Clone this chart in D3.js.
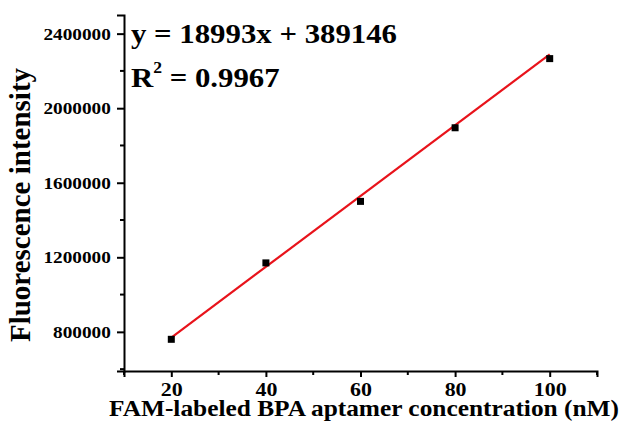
<!DOCTYPE html>
<html lang="en">
<head>
<meta charset="UTF-8">
<title>Fluorescence intensity vs aptamer concentration</title>
<script src="https://d3js.org/d3.v7.min.js"></script>
<style>
html, body {
  margin: 0;
  padding: 0;
  background: white;
}
svg text {
  font-family: "Liberation Serif", "Times New Roman", serif;
  font-weight: bold;
  fill: black;
}
.axis path, .axis line {
  stroke: black;
  stroke-width: 2;
}
.x-axis text { font-size: 19px; }
.y-axis text { font-size: 17.5px; }
</style>
</head>
<body>
<div id="chart"></div>
<script>

// --------------------------------------
//  Data
// --------------------------------------

const concentrations = [20, 40, 60, 80, 100];
const intensities = [760000, 1170000, 1500000, 1895000, 2266000];
const xTickValues = [20, 40, 60, 80, 100];
const xMinorValues = [10, 30, 50, 70, 90, 110];
const yTickValues = [800000, 1200000, 1600000, 2000000, 2400000];
const yMinorValues = [600000, 1000000, 1400000, 1800000, 2200000];
const fitSlope = 18993;
const fitIntercept = 389146;
const fitR2 = "0.9967";

// --------------------------------------
//  Size and margin
// --------------------------------------

let totalWidth = 629;
let totalHeight = 426;
let margin = {top: 15, right: 32, bottom: 55, left: 124};

// text in the original is a little wider than the font
let stretch = 1.1;

let svg = d3.select("#chart")
  .append("svg")
  .attr("width", totalWidth)
  .attr("height", totalHeight);

// --------------------------------------
//  Scales
// --------------------------------------

let x = d3.scaleLinear()
  .domain([10, 110])
  .range([margin.left, totalWidth - margin.right]);

let y = d3.scaleLinear()
  .domain([590000, 2500000])
  .range([totalHeight - margin.bottom, margin.top]);

// --------------------------------------
//  Axes
// --------------------------------------

let xAxis = svg.append("g")
  .attr("class", "axis x-axis")
  .attr("transform", `translate(0, ${totalHeight - margin.bottom})`)
  .call(d3.axisBottom(x)
    .tickValues(xTickValues)
    .tickSizeOuter(0)
    .tickSize(6)
    .tickPadding(6)
    .tickFormat(d3.format("d")));

xAxis.selectAll(".tick text")
  .attr("transform", `scale(${stretch * 1.05}, 1)`);

xAxis.selectAll(".minor")
  .data(xMinorValues)
  .join("line")
  .attr("class", "minor")
  .attr("x1", d => x(d)).attr("x2", d => x(d))
  .attr("y1", 0).attr("y2", 4);

let yAxis = svg.append("g")
  .attr("class", "axis y-axis")
  .attr("transform", `translate(${margin.left}, 0)`)
  .call(d3.axisLeft(y)
    .tickValues(yTickValues)
    .tickSizeOuter(0)
    .tickSize(7)
    .tickPadding(5)
    .tickFormat(d3.format("d")));

yAxis.selectAll(".tick text")
  .attr("transform", `scale(${stretch}, 1)`);

yAxis.selectAll(".minor")
  .data(yMinorValues)
  .join("line")
  .attr("class", "minor")
  .attr("x1", 0).attr("x2", -4)
  .attr("y1", d => y(d)).attr("y2", d => y(d));

// axis titles
svg.append("text")
  .attr("transform", "translate(364, 416) scale(1.08, 1)")
  .attr("text-anchor", "middle")
  .style("font-size", "23.5px")
  .text("FAM-labeled BPA aptamer concentration (nM)");

svg.append("text")
  .attr("transform", "translate(30, 205) rotate(-90)")
  .attr("text-anchor", "middle")
  .style("font-size", "29px")
  .text("Fluorescence intensity");

// --------------------------------------
//  Fit line and points
// --------------------------------------

let fitEnds = [d3.min(concentrations), d3.max(concentrations)];

svg.append("line")
  .attr("x1", x(fitEnds[0]))
  .attr("y1", y(fitSlope * fitEnds[0] + fitIntercept))
  .attr("x2", x(fitEnds[1]))
  .attr("y2", y(fitSlope * fitEnds[1] + fitIntercept))
  .attr("stroke", "#e8131b")
  .attr("stroke-width", 2.2);

svg.selectAll(".pt")
  .data(concentrations)
  .join("rect")
  .attr("class", "pt")
  .attr("x", (d) => x(d) - 3.5)
  .attr("y", (d, i) => y(intensities[i]) - 3.5)
  .attr("width", 7)
  .attr("height", 7)
  .attr("fill", "black");

// --------------------------------------
//  Equation
// --------------------------------------

svg.append("text")
  .attr("transform", `translate(131, 43) scale(${stretch}, 1)`)
  .style("font-size", "28px")
  .text(`y = ${fitSlope}x + ${fitIntercept}`);

let r2 = svg.append("text")
  .attr("transform", `translate(131, 87) scale(${stretch}, 1)`)
  .style("font-size", "28px");
r2.append("tspan").text("R");
r2.append("tspan").attr("dy", -14).style("font-size", "16px").text("2");
r2.append("tspan").attr("dy", 14).text(` = ${fitR2}`);

</script>
</body>
</html>
